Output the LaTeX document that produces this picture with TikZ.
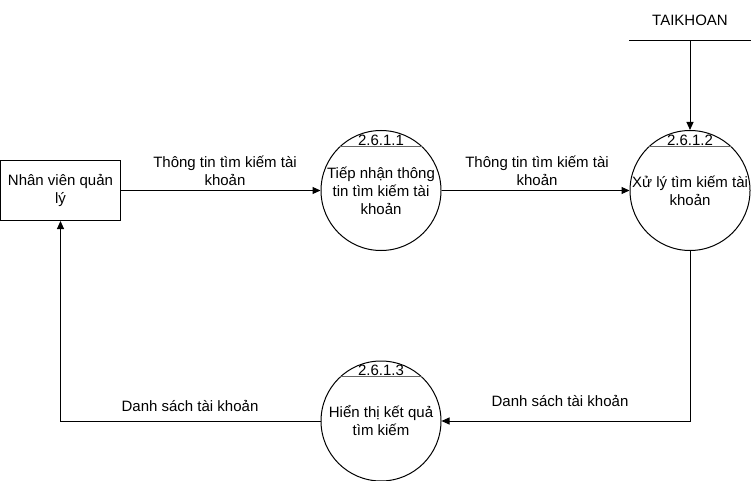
\documentclass[tikz,border=0pt]{standalone}
\usepackage{fontspec}
\setmainfont{Liberation Sans}
\usetikzlibrary{arrows.meta}
\begin{document}
\begin{tikzpicture}[x=1pt,y=-1pt,line width=1pt,
		font=\fontsize{15}{18}\selectfont,
		xuly/.style={draw,circle,minimum size=120pt,inner sep=0pt,align=center},
		tacnhan/.style={draw,minimum width=120pt,minimum height=60pt,inner sep=0pt,align=center},
		nhan/.style={inner sep=0pt,align=center},
		tieude/.style={black!60,line width=1.4pt},
		muiten/.style={-{Triangle[length=8pt,width=7pt]}}]
			\useasboundingbox (0,0) rectangle (751,481);
			%			Tác nhân và kho
			\node[tacnhan] (nv) at (60.5,190.5) {Nhân viên quản\\lý};
			\node[nhan,minimum width=121pt,minimum height=40pt] (kho) at (690,20.5) {TAIKHOAN};
			\draw (kho.north west) -- (kho.north east) (kho.south west) -- (kho.south east);
			%			Các xử lý
			\node[xuly] (xl1) at (381,190.5) {Tiếp nhận thông\\tin tìm kiếm tài\\khoản};
			\node[xuly] (xl2) at (690,190.5) {Xử lý tìm kiếm tài\\khoản};
			\node[xuly] (xl3) at (381,421) {Hiển thị kết quả\\tìm kiếm};
			\draw[tieude] (xl1.47) -- (xl1.133);
			\draw[tieude] (xl2.47) -- (xl2.133);
			\draw[tieude] (xl3.47) -- (xl3.133);
			\node[nhan] (so1) at (381,140) {2.6.1.1};
			\node[nhan] (so2) at (690,140) {2.6.1.2};
			\node[nhan] (so3) at (381,370.5) {2.6.1.3};
			%			Luồng dữ liệu
			\draw[muiten] (nv) -- (xl1);
			\draw[muiten] (xl1) -- (xl2);
			\draw[muiten] (kho) -- (xl2);
			\draw[muiten] (xl2) |- (xl3);
			\draw[muiten] (xl3) -| (nv);
			\node[nhan] (l1) at (225,171) {Thông tin tìm kiếm tài\\khoản};
			\node[nhan] (l2) at (537,171) {Thông tin tìm kiếm tài\\khoản};
			\node[nhan] (l3) at (190,406) {Danh sách tài khoản};
			\node[nhan] (l4) at (560,401) {Danh sách tài khoản};
		\end{tikzpicture}
\end{document}
